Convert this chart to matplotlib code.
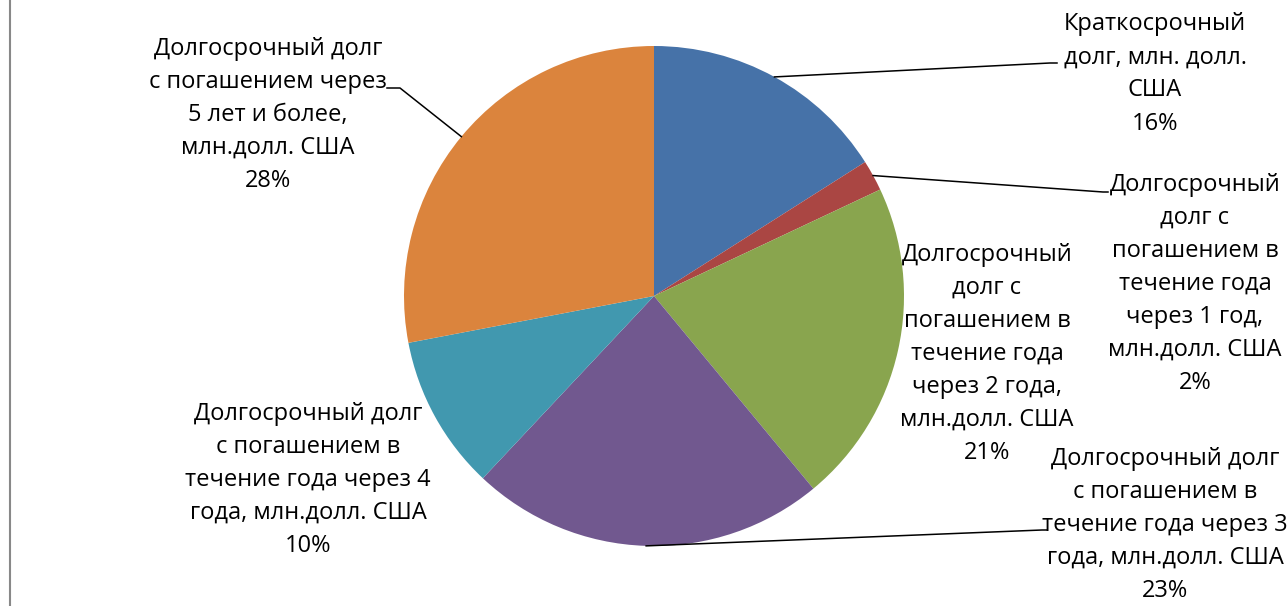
import numpy as np
import matplotlib
matplotlib.use("Agg")
import matplotlib.pyplot as plt

W, H = 1287, 606

labels = [
    "Краткосрочный\nдолг, млн. долл.\nСША",
    "Долгосрочный\nдолг с\nпогашением в\nтечение года\nчерез 1 год,\nмлн.долл. США",
    "Долгосрочный\nдолг с\nпогашением в\nтечение года\nчерез 2 года,\nмлн.долл. США",
    "Долгосрочный долг\nс погашением в\nтечение года через 3\nгода, млн.долл. США",
    "Долгосрочный долг\nс погашением в\nтечение года через 4\nгода, млн.долл. США",
    "Долгосрочный долг\nс погашением через\n5 лет и более,\nмлн.долл. США",
]
shares = [16, 2, 21, 23, 10, 28]
colors = ["#4672A8", "#AA4643", "#89A54E", "#71588F", "#4198AF", "#DB843D"]

# label block centres (pixels, y from top) and leader elbow points (None = no leader)
label_pos = [(1155, 74), (1195, 284), (987, 354), (1165, 525), (308, 480), (268, 115)]
elbows = [
    [(1050, 63), (1057, 63)],
    [(1103, 192), (1108, 192)],
    None,
    [(1042, 530), (1047, 530)],
    None,
    [(400, 88), (387, 88)],
]

plt.rcParams["font.family"] = ["Open Sans", "DejaVu Sans"]

fig = plt.figure(figsize=(W / 100, H / 100), dpi=100)
ax = fig.add_axes([0, 0, 1, 1])

cx, cy, r = 654, H - 296, 250
wedges, _ = ax.pie(
    shares,
    colors=colors,
    startangle=90,
    counterclock=False,
    center=(cx, cy),
    radius=r,
    wedgeprops={"linewidth": 0},
)

ax.set_xlim(0, W)
ax.set_ylim(0, H)
ax.set_aspect("equal")
ax.axis("off")

for w, lab, pct, pos, elbow in zip(wedges, labels, shares, label_pos, elbows):
    ax.text(pos[0], H - pos[1], f"{lab}\n{pct}%", ha="center", va="center",
            multialignment="center", fontsize=17, linespacing=1.5, color="#000000")
    if elbow is not None:
        mid = np.deg2rad((w.theta1 + w.theta2) / 2)
        xs = [cx + r * np.cos(mid)] + [p[0] for p in elbow]
        ys = [cy + r * np.sin(mid)] + [H - p[1] for p in elbow]
        ax.plot(xs, ys, color="black", linewidth=1.1)

# grey frame edge on the left
ax.plot([10, 10], [0, H], color="#888888", linewidth=1.5)

fig.savefig("out.png", dpi=100)
